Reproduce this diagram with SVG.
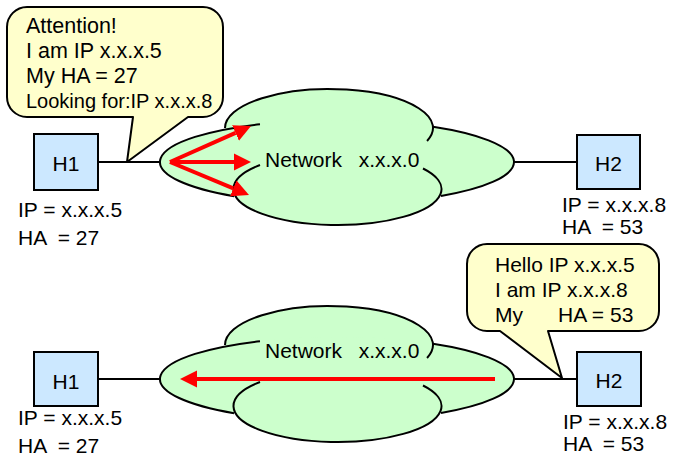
<svg xmlns="http://www.w3.org/2000/svg" width="683" height="475" viewBox="0 0 683 475">
<defs>
<style>
text{font-family:"Liberation Sans",Arial,sans-serif;font-size:21px;fill:#000;white-space:pre}
.bub{fill:#ffffcc;stroke:#000;stroke-width:2;stroke-linejoin:round}
.host{fill:#cce8ff;stroke:#000;stroke-width:2}
.cf{fill:#ccffcc;stroke:none}
.co{fill:none;stroke:#000;stroke-width:2}
.wire{stroke:#000;stroke-width:2;fill:none}
.arr{stroke:#ff0000;stroke-width:4;fill:none;marker-end:url(#ah)}
.mid{text-anchor:middle}
.net{word-spacing:2.5px}
</style>
<marker id="ah" viewBox="0 -9 18 18" refX="0" refY="0" markerWidth="18" markerHeight="18" markerUnits="userSpaceOnUse" orient="auto"><path d="M0,-8.5 L17,0 L0,8.5 Z" fill="#ff0000"/></marker>
</defs>
<rect width="683" height="475" fill="#ffffff"/>

<g id="network-top">
<ellipse class="cf" cx="329" cy="128" rx="104" ry="39"/>
<ellipse class="cf" cx="337" cy="162" rx="177" ry="42"/>
<ellipse class="cf" cx="337.5" cy="189" rx="104" ry="36"/>
<path class="co" d="M225,128 A104,39 0 1 1 427.05,141"/>
<path class="co" d="M260,124.18 A177,42 0 0 0 234,196.16"/>
<path class="co" d="M433,126.72 A177,42 0 0 1 441,195.99"/>
<path class="co" d="M260,164.99 A104,36 0 1 0 423,168.5"/>
<text class="net" x="265" y="167">Network  x.x.x.0</text>
</g>

<g id="network-bottom" transform="translate(0,217)">
<ellipse class="cf" cx="329" cy="128" rx="104" ry="39"/>
<ellipse class="cf" cx="337" cy="162" rx="177" ry="42"/>
<ellipse class="cf" cx="337.5" cy="189" rx="104" ry="36"/>
<path class="co" d="M225,128 A104,39 0 1 1 427.05,141"/>
<path class="co" d="M260,124.18 A177,42 0 0 0 234,196.16"/>
<path class="co" d="M433,126.72 A177,42 0 0 1 441,195.99"/>
<path class="co" d="M260,164.99 A104,36 0 1 0 423,168.5"/>
<text class="net" x="265" y="141">Network  x.x.x.0</text>
</g>

<g id="connectors">
<line class="wire" x1="98" y1="162" x2="160" y2="162"/>
<line class="wire" x1="514" y1="162" x2="577" y2="162"/>
<line class="wire" x1="98" y1="379" x2="160" y2="379"/>
<line class="wire" x1="514" y1="379" x2="577" y2="379"/>
<line class="arr" x1="170" y1="162" x2="235.5" y2="132.9"/>
<line class="arr" x1="170" y1="162" x2="234" y2="162"/>
<line class="arr" x1="170" y1="162" x2="233.3" y2="188.4"/>
<line class="arr" x1="495" y1="379" x2="197" y2="379"/>
</g>

<g id="h1-top">
<rect class="host" x="34" y="134" width="64" height="56"/>
<text class="mid" x="66" y="171">H1</text>
<text x="18" y="217">IP = x.x.x.5</text>
<text x="18" y="245">HA  = 27</text>
</g>

<g id="h2-top">
<rect class="host" x="577" y="135" width="63" height="54"/>
<text class="mid" x="608.5" y="171">H2</text>
<text x="562" y="212">IP = x.x.x.8</text>
<text x="562" y="234">HA  = 53</text>
</g>

<g id="h1-bottom">
<rect class="host" x="34" y="352" width="64" height="54"/>
<text class="mid" x="66" y="389">H1</text>
<text x="18" y="425">IP = x.x.x.5</text>
<text x="18" y="452.5">HA  = 27</text>
</g>

<g id="h2-bottom">
<rect class="host" x="577" y="352" width="64" height="54"/>
<text class="mid" x="609" y="388">H2</text>
<text x="563" y="429">IP = x.x.x.8</text>
<text x="563" y="451">HA  = 53</text>
</g>

<g id="bubble-request">
<path class="bub" d="M27,7 H203 A20,20 0 0 1 223,27 V97 A20,20 0 0 1 203,117 H188 L127,162 L133,117 H27 A20,20 0 0 1 7,97 V27 A20,20 0 0 1 27,7 Z"/>
<text x="26" y="33" style="font-size:21.5px">Attention!</text>
<text x="26" y="58" style="font-size:21.5px">I am IP x.x.x.5</text>
<text x="26" y="83" style="font-size:21.5px">My HA = 27</text>
<text x="26" y="108" style="font-size:20px">Looking for:IP x.x.x.8</text>
</g>

<g id="bubble-reply">
<path class="bub" d="M487,244 H639 A20,20 0 0 1 659,264 V311 A20,20 0 0 1 639,331 H548 L562,378 L500,331 H487 A20,20 0 0 1 467,311 V264 A20,20 0 0 1 487,244 Z"/>
<text x="495" y="272">Hello IP x.x.x.5</text>
<text x="495" y="297">I am IP x.x.x.8</text>
<text x="495" y="322">My      HA = 53</text>
</g>
</svg>
